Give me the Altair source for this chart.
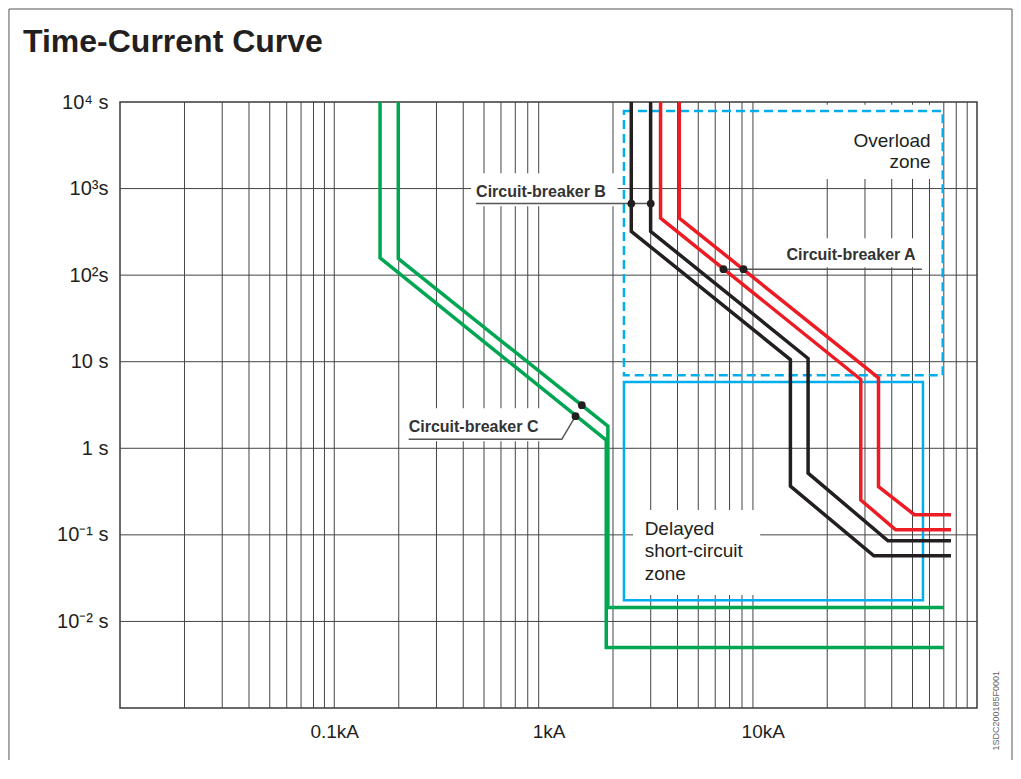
import altair as alt
import pandas as pd

# ---------------- data ----------------
x_domain = [0.01, 100]          # kA
y_domain = [0.001, 10000]       # s

x_tick_values = [0.1, 1, 10]
x_tick_labels = ["0.1kA", "1kA", "10kA"]
y_tick_values = [0.01, 0.1, 1, 10, 100, 1000, 10000]
y_tick_labels = ["10\u207b\u00b2 s", "10\u207b\u00b9 s", "1 s", "10 s", "10\u00b2s", "10\u00b3s", "10\u2074 s"]

grid_x = [0.02, 0.03, 0.04, 0.05, 0.06, 0.07, 0.08, 0.09, 0.1,
          0.2, 0.3, 0.4, 0.5, 0.6, 0.7, 0.8, 0.9,
          2, 3, 4, 5, 6, 7, 8, 9,
          20, 30, 40, 50, 60, 70, 80, 90]
grid_y = [0.01, 0.1, 1, 10, 100, 1000]

# Circuit-breaker C (green)
c_min_kA = [0.1636, 0.1636, 1.86, 1.86, 70.1]
c_min_s = [10000, 158, 1.24, 0.00501, 0.00501]
c_max_kA = [0.199, 0.199, 1.893, 1.893, 70.1]
c_max_s = [10000, 155.5, 1.80, 0.0145, 0.0145]
# Circuit-breaker B (black)
b_min_kA = [2.434, 2.434, 13.46, 13.46, 33.0, 75.6]
b_min_s = [10000, 321, 10.6, 0.365, 0.0574, 0.0574]
b_max_kA = [2.997, 2.997, 16.28, 16.28, 38.4, 75.6]
b_max_s = [10000, 321, 10.9, 0.516, 0.0855, 0.0855]
# Circuit-breaker A (red)
a_min_kA = [3.334, 3.334, 28.68, 28.68, 41.7, 75.6]
a_min_s = [10000, 456, 6.23, 0.253, 0.1146, 0.1146]
a_max_kA = [4.076, 4.076, 34.69, 34.69, 51.0, 75.6]
a_max_s = [10000, 456, 6.52, 0.361, 0.171, 0.171]

curve_names = ["C_min", "C_max", "B_min", "B_max", "A_min", "A_max"]
curve_colors = ["#00A651", "#00A651", "#231F20", "#231F20", "#ED1C24", "#ED1C24"]

# marker dots
dot_kA = [1.431, 1.337, 2.436, 3.001, 6.553, 8.134]
dot_s = [3.147, 2.348, 671, 671, 117, 117]

# leader lines
leader_group = ["B", "B", "A", "A", "C", "C", "C"]
leader_kA = [0.4592, 3.001, 6.553, 55.3, 0.2225, 1.154, 1.337]
leader_s = [671, 671, 117, 117, 1.274, 1.274, 2.348]

# breaker labels
cb_text = ["Circuit-breaker B", "Circuit-breaker A", "Circuit-breaker C"]
cb_kA = [0.4592, 12.9, 0.2225]
cb_s = [800, 148.6, 1.535]

# zones
overload_box = dict(x1=[2.25], x2=[69.2], y1=[6.98], y2=[7870])
delayed_box = dict(x1=[2.25], x2=[55.95], y1=[0.01762], y2=[5.845])
overload_text = ["Overload\nzone"]
overload_kA = [60.75]
overload_s = [3022]
delayed_text = ["Delayed\nshort-circuit\nzone"]
delayed_kA = [2.81]
delayed_s = [0.1]

# white label backgrounds (hide grid behind labels)
bg_x1 = [17.5, 12.0, 0.4353, 0.2123, 2.48]
bg_x2 = [65.7, 57.1, 2.101, 0.958, 9.73]
bg_y1 = [1294, 123.4, 624.5, 1.208, 0.02013]
bg_y2 = [9300, 266.8, 1502, 2.904, 0.1939]

# figure furniture
title_text = ["Time-Current Curve"]
title_kA = [0.003525]
title_s = [37800]
code_text = ["1SDC200185F0001"]
code_kA = [122.7]
code_s = [0.000929]
frame_kA = [0.003032, 0.003032, 145.7, 145.7]
frame_s = [0.0002507, 118600, 118600, 0.0002507]

# ---------------- chart ----------------
INK = "#231F20"
CYAN = "#00AEEF"
FONT = "Liberation Sans"


def label_expr(values, labels):
    expr = "''"
    for v, l in reversed(list(zip(values, labels))):
        expr = f"datum.value < {v * 3} ? '{l}' : ({expr})"
    return expr


xs = alt.Scale(type="log", domain=x_domain, nice=False)
ys = alt.Scale(type="log", domain=y_domain, nice=False)
x_axis = alt.Axis(values=x_tick_values, labelExpr=label_expr(x_tick_values, x_tick_labels),
                  ticks=False, domain=False, grid=False, labelPadding=14, labelFontSize=19,
                  labelFont=FONT, labelColor=INK, labelFlush=False, labelOverlap=False)
y_axis = alt.Axis(values=y_tick_values, labelExpr=label_expr(y_tick_values, y_tick_labels),
                  ticks=False, domain=False, grid=False, labelPadding=12, labelFontSize=20,
                  labelFont=FONT, labelColor=INK, labelFlush=False, labelOverlap=False)


def X(f):
    return alt.X(f, type="quantitative", scale=xs, axis=x_axis, title=None)


def Y(f):
    return alt.Y(f, type="quantitative", scale=ys, axis=y_axis, title=None)


grid_v = alt.Chart(pd.DataFrame({"kA": grid_x})).mark_rule(color="#444", strokeWidth=1).encode(x=X("kA"))
grid_h = alt.Chart(pd.DataFrame({"s": grid_y})).mark_rule(color="#444", strokeWidth=1).encode(y=Y("s"))

bg = alt.Chart(pd.DataFrame({"x1": bg_x1, "x2": bg_x2, "y1": bg_y1, "y2": bg_y2})).mark_rect(
    color="white").encode(x=X("x1"), x2="x2", y=Y("y1"), y2="y2")

ov_rect = alt.Chart(pd.DataFrame(overload_box)).mark_rect(
    fill="transparent", stroke=CYAN, strokeWidth=2.5, strokeDash=[9, 5]).encode(
    x=X("x1"), x2="x2", y=Y("y1"), y2="y2")
dl_rect = alt.Chart(pd.DataFrame(delayed_box)).mark_rect(
    fill="transparent", stroke=CYAN, strokeWidth=2.5).encode(
    x=X("x1"), x2="x2", y=Y("y1"), y2="y2")

rows = []
for name, kx, sy in zip(curve_names,
                        [c_min_kA, c_max_kA, b_min_kA, b_max_kA, a_min_kA, a_max_kA],
                        [c_min_s, c_max_s, b_min_s, b_max_s, a_min_s, a_max_s]):
    for i, (a, b) in enumerate(zip(kx, sy)):
        rows.append({"curve": name, "idx": i, "kA": a, "s": b})
curves = alt.Chart(pd.DataFrame(rows)).mark_line(strokeWidth=3.5, strokeJoin="miter").encode(
    x=X("kA"), y=Y("s"),
    color=alt.Color("curve:N", scale=alt.Scale(domain=curve_names, range=curve_colors), legend=None),
    order="idx:Q")

leaders = alt.Chart(pd.DataFrame({"g": leader_group, "idx": list(range(len(leader_kA))),
                                  "kA": leader_kA, "s": leader_s})).mark_line(
    color="#555", strokeWidth=1.4).encode(x=X("kA"), y=Y("s"), detail="g:N", order="idx:Q")

dots = alt.Chart(pd.DataFrame({"kA": dot_kA, "s": dot_s})).mark_circle(
    size=60, color=INK, opacity=1).encode(x=X("kA"), y=Y("s"))

cb_labels = alt.Chart(pd.DataFrame({"t": cb_text, "kA": cb_kA, "s": cb_s})).mark_text(
    align="left", baseline="alphabetic", font=FONT, fontWeight="bold", fontSize=16, color="#333").encode(
    x=X("kA"), y=Y("s"), text="t:N")

ov_label = alt.Chart(pd.DataFrame({"t": overload_text, "kA": overload_kA, "s": overload_s})).mark_text(
    align="right", baseline="alphabetic", font=FONT, fontSize=19, color=INK, lineBreak="\n",
    lineHeight=21).encode(x=X("kA"), y=Y("s"), text="t:N")
dl_label = alt.Chart(pd.DataFrame({"t": delayed_text, "kA": delayed_kA, "s": delayed_s})).mark_text(
    align="left", baseline="alphabetic", font=FONT, fontSize=19, color=INK, lineBreak="\n",
    lineHeight=22.5).encode(x=X("kA"), y=Y("s"), text="t:N")

title = alt.Chart(pd.DataFrame({"t": title_text, "kA": title_kA, "s": title_s})).mark_text(
    align="left", baseline="alphabetic", font=FONT, fontWeight="bold", fontSize=32, color=INK,
    clip=False).encode(x=X("kA"), y=Y("s"), text="t:N")

code = alt.Chart(pd.DataFrame({"t": code_text, "kA": code_kA, "s": code_s})).mark_text(
    align="center", baseline="middle", font=FONT, fontSize=9, color="#666", angle=270,
    clip=False).encode(x=X("kA"), y=Y("s"), text="t:N")

frame = alt.Chart(pd.DataFrame({"idx": [0, 1, 2, 3], "kA": frame_kA, "s": frame_s})).mark_line(
    color="#555", strokeWidth=1, strokeJoin="bevel", clip=False).encode(
    x=X("kA"), y=Y("s"), order="idx:Q")

chart = alt.layer(
    grid_v, grid_h, bg, ov_rect, dl_rect, curves, leaders, dots,
    cb_labels, ov_label, dl_label, title, code, frame
).properties(
    width=857, height=606, background="white",
    padding={"left": 0, "top": 0, "right": 0, "bottom": 0},
).configure_view(stroke="#3a3a3a", strokeWidth=1.5)

chart.save("out.html", embed_options={"renderer": "svg", "actions": False})
